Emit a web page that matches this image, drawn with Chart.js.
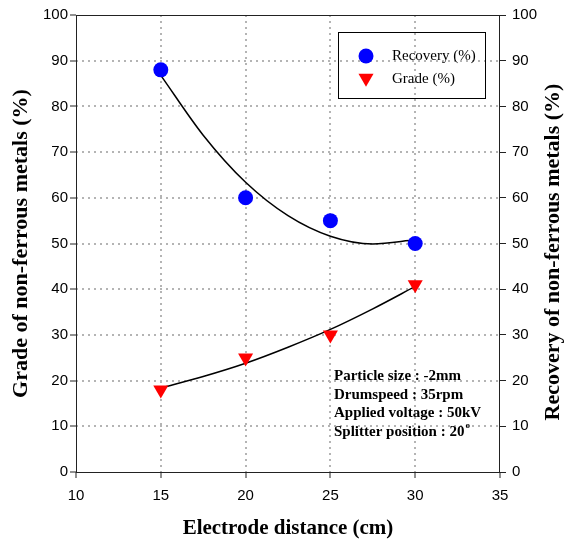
<!DOCTYPE html>
<html>
<head>
<meta charset="utf-8">
<script src="https://cdn.jsdelivr.net/npm/chart.js@4.4.1/dist/chart.umd.min.js"></script>
<style>
    html, body { margin: 0; padding: 0; background: #fff; }
    #chart { display: block; }
</style>
</head>
<body>
<canvas id="chart" width="569" height="545"></canvas>
<script>
// Measured points
const distances = [15, 20, 25, 30];
const recovery = [88, 60, 55, 50];
const grade = [18, 25, 30, 41];

// Trend lines
const fitDistances = [15, 17.5, 20, 22.5, 25, 27.5, 30];
const recoveryFit = [86.8, 73.7, 63.4, 56.1, 51.6, 49.9, 50.8];
const gradeFit = [18.4, 20.9, 23.8, 27.3, 31.2, 35.7, 40.6];

// Labels
const xTitle = 'Electrode distance (cm)';
const leftTitle = 'Grade of non-ferrous metals (%)';
const rightTitle = 'Recovery of non-ferrous metals (%)';
const legendLabels = ['Recovery (%)', 'Grade (%)'];
const conditions = ['Particle size : -2mm', 'Drumspeed : 35rpm', 'Applied voltage : 50kV', 'Splitter position : 20'];

const serif = '"Liberation Serif", "Times New Roman", serif';
const sans = '"Liberation Sans", Arial, sans-serif';

function toPoints(xs, ys) {
    return xs.map((x, i) => ({ x: x, y: ys[i] }));
}

// Box round the plot area
const framePlugin = {
    id: 'frame',
    afterDraw(chart) {
        const { ctx, chartArea: a } = chart;
        ctx.save();
        ctx.strokeStyle = '#222';
        ctx.lineWidth = 1;
        ctx.strokeRect(a.left + 0.5, a.top + 0.5, a.right - a.left - 1, a.bottom - a.top);
        ctx.restore();
    }
};

// Right axis title (reads bottom to top), legend box and test conditions
const extrasPlugin = {
    id: 'extras',
    afterDraw(chart) {
        const ctx = chart.ctx;
        ctx.save();

        // right title
        ctx.translate(553, 252);
        ctx.rotate(-Math.PI / 2);
        ctx.font = 'bold 22px ' + serif;
        ctx.fillStyle = '#000';
        ctx.textAlign = 'center';
        ctx.textBaseline = 'middle';
        ctx.fillText(rightTitle, 0, 0);
        ctx.restore();

        // legend
        ctx.save();
        ctx.strokeStyle = '#000';
        ctx.lineWidth = 1;
        ctx.strokeRect(338.5, 32.5, 147, 66);
        ctx.fillStyle = '#0000ff';
        ctx.beginPath();
        ctx.arc(366, 56, 7.5, 0, Math.PI * 2);
        ctx.fill();
        const r = 8.7;
        ctx.fillStyle = '#ff0000';
        ctx.beginPath();
        ctx.moveTo(366, 78 + r);
        ctx.lineTo(366 - r * Math.sqrt(3) / 2, 78 - r / 2);
        ctx.lineTo(366 + r * Math.sqrt(3) / 2, 78 - r / 2);
        ctx.closePath();
        ctx.fill();
        ctx.fillStyle = '#000';
        ctx.font = '15px ' + serif;
        ctx.textAlign = 'left';
        ctx.textBaseline = 'middle';
        ctx.fillText(legendLabels[0], 392, 56);
        ctx.fillText(legendLabels[1], 392, 79);

        // conditions
        ctx.font = 'bold 15px ' + serif;
        conditions.forEach((line, i) => {
            ctx.fillText(line, 334, 376 + i * 18.7);
        });
        const w = ctx.measureText(conditions[3]).width;
        ctx.font = 'bold 9px ' + serif;
        ctx.fillText('o', 334 + w + 1, 376 + 3 * 18.7 - 6);
        ctx.restore();
    }
};

new Chart(document.getElementById('chart'), {
    type: 'scatter',
    data: {
        datasets: [
            {
                label: legendLabels[0],
                data: toPoints(distances, recovery),
                backgroundColor: '#0000ff',
                borderColor: '#0000ff',
                pointStyle: 'circle',
                pointRadius: 7.5,
                borderWidth: 0,
                order: 1
            },
            {
                label: legendLabels[1],
                data: toPoints(distances, grade),
                backgroundColor: '#ff0000',
                borderColor: '#ff0000',
                pointStyle: 'triangle',
                rotation: 180,
                pointRadius: 8.7,
                borderWidth: 0,
                order: 1
            },
            {
                label: 'recovery fit',
                data: toPoints(fitDistances, recoveryFit),
                showLine: true,
                borderColor: '#000',
                borderWidth: 1.5,
                pointRadius: 0,
                cubicInterpolationMode: 'monotone',
                order: 2
            },
            {
                label: 'grade fit',
                data: toPoints(fitDistances, gradeFit),
                showLine: true,
                borderColor: '#000',
                borderWidth: 1.5,
                pointRadius: 0,
                cubicInterpolationMode: 'monotone',
                order: 2
            }
        ]
    },
    options: {
        responsive: false,
        animation: false,
        layout: { padding: { top: 14, left: 0, right: 0, bottom: 0 } },
        plugins: {
            legend: { display: false },
            tooltip: { enabled: false }
        },
        scales: {
            x: {
                type: 'linear',
                min: 10,
                max: 35,
                afterFit: (scale) => { scale.height = 73; },
                ticks: {
                    stepSize: 5,
                    color: '#000',
                    padding: 9,
                    font: { family: sans, size: 15 }
                },
                grid: {
                    color: (c) => (c.tick && (c.tick.value === 10 || c.tick.value === 35)) ? 'rgba(0,0,0,0)' : '#b4b4b4',
                    lineWidth: 2,
                    tickColor: '#222',
                    tickWidth: 1,
                    tickLength: 6
                },
                border: { display: false, dash: [2, 4] },
                title: {
                    display: true,
                    text: xTitle,
                    color: '#000',
                    font: { family: serif, size: 21, weight: 'bold' },
                    padding: { top: 0, bottom: 4 }
                }
            },
            y: {
                position: 'left',
                min: 0,
                max: 100,
                afterFit: (scale) => { scale.width = 76; },
                ticks: {
                    stepSize: 10,
                    color: '#000',
                    padding: 2,
                    font: { family: sans, size: 15 }
                },
                grid: {
                    color: (c) => (c.tick && (c.tick.value === 0 || c.tick.value === 100)) ? 'rgba(0,0,0,0)' : '#b4b4b4',
                    lineWidth: 2,
                    tickColor: '#222',
                    tickWidth: 1,
                    tickLength: 6
                },
                border: { display: false, dash: [2, 4] },
                title: {
                    display: true,
                    text: leftTitle,
                    color: '#000',
                    font: { family: serif, size: 22, weight: 'bold' },
                    padding: { top: 8, bottom: 0 }
                }
            },
            y2: {
                position: 'right',
                min: 0,
                max: 100,
                afterFit: (scale) => { scale.width = 69; },
                ticks: {
                    stepSize: 10,
                    color: '#000',
                    padding: 6,
                    font: { family: sans, size: 15 }
                },
                grid: {
                    drawOnChartArea: false,
                    tickColor: '#222',
                    tickWidth: 1,
                    tickLength: 6
                },
                border: { display: false }
            }
        }
    },
    plugins: [framePlugin, extrasPlugin]
});
</script>
</body>
</html>
